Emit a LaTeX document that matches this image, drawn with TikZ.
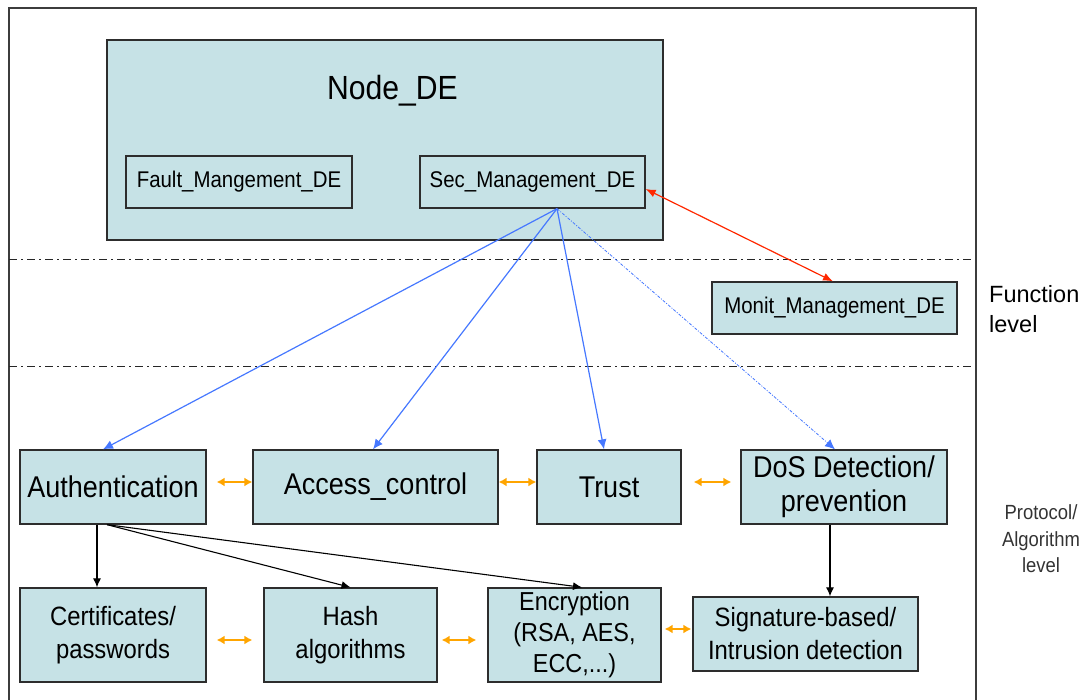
\documentclass[tikz,border=0pt]{standalone}
\usepackage{fontspec}
\setmainfont{Liberation Sans}[FakeStretch=0.9]
\newfontfamily\plainsans{Liberation Sans}
\usetikzlibrary{arrows.meta}
\definecolor{boxfill}{RGB}{198,226,230}
\definecolor{boxline}{RGB}{45,45,45}
\definecolor{arrblue}{RGB}{70,120,255}
\definecolor{arrorange}{RGB}{255,165,0}
\definecolor{arrred}{RGB}{255,40,0}
\definecolor{framegray}{RGB}{60,60,60}
\begin{document}
\begin{tikzpicture}[x=1pt,y=-1pt,
  box/.style={draw=boxline, line width=1.3pt, fill=boxfill, inner sep=0pt, align=center},
  smallfont/.style={font=\fontsize{22.7}{27}\selectfont},
  topfont/.style={font=\fontsize{30}{34}\selectfont},
  botfont/.style={font=\fontsize{26.5}{33}\selectfont},
  bluearr/.style={draw=arrblue, line width=1.2pt, -{Latex[length=10pt,width=9pt]}},
  bluedot/.style={bluearr, line width=0.8pt, dash pattern=on 3pt off 1.5pt on 1pt off 1.5pt},
  blkarr/.style={draw=black, line width=1.1pt, -{Latex[length=9pt,width=8pt]}},
  orarr/.style={draw=arrorange, line width=1.7pt, {Latex[length=8pt,width=9pt]}-{Latex[length=8pt,width=9pt]}},
  redarr/.style={draw=arrred, line width=1.2pt, {Latex[length=10pt,width=8pt]}-{Latex[length=10pt,width=8pt]}},
  levelline/.style={draw=black!85, line width=1pt, dash pattern=on 8pt off 4pt on 2pt off 4pt},
]
\useasboundingbox (0,0) rectangle (1089,700);
% frame
\draw[framegray, line width=1.6pt] (9,702) -- (9,8) -- (976,8) -- (976,702);
% level lines
\draw[levelline] (9,260) -- (972,260);
\draw[levelline] (9,366) -- (972,366);

% top node
\node[box, minimum width=556pt, minimum height=200pt] (nodede) at (385,140) {};
\node[anchor=base, inner sep=0pt, font=\fontsize{33.5}{40}\selectfont] (nodetitle) at (392.5,100) {Node\_DE};
\node[box, smallfont, minimum width=226pt, minimum height=52pt] (fault) at (239,182) {Fault\_Mangement\_DE};
\node[box, smallfont, minimum width=225pt, minimum height=52pt] (sec) at (532.5,182) {Sec\_Management\_DE};
\node[box, smallfont, minimum width=245pt, minimum height=52pt] (monit) at (834.5,308) {Monit\_Management\_DE};

% protocol level row 1
\node[box, topfont, minimum width=186pt, minimum height=74pt] (auth) at (113,487) {Authentication};
\node[box, topfont, minimum width=245pt, minimum height=74pt] (access) at (375.5,487) {Access\_control};
\node[box, topfont, minimum width=144pt, minimum height=74pt] (trust) at (609,487) {Trust};
\node[box, topfont, minimum width=206pt, minimum height=74pt] (dos) at (844,487) {DoS Detection/\\prevention};

% row 2
\node[box, botfont, minimum width=186pt, minimum height=94pt] (cert) at (113,635) {Certificates/\\passwords};
\node[box, botfont, minimum width=173pt, minimum height=94pt] (hash) at (350.5,635) {Hash\\algorithms};
\node[box, font=\fontsize{26}{31}\selectfont, minimum width=173pt, minimum height=94pt] (enc) at (574.5,635) {Encryption\\(RSA, AES,\\ECC,...)};
\node[box, botfont, minimum width=225pt, minimum height=74pt] (sig) at (805.5,634) {Signature-based/\\Intrusion detection};

% level labels
\node[anchor=west, inner sep=0pt, align=left, font=\plainsans\fontsize{23.5}{30}\selectfont] (funclevel) at (989,309.5) {Function\\level};
\node[inner sep=0pt, align=center, text=black!80, font=\fontsize{20.5}{26.5}\selectfont] (protolevel) at (1041,539) {Protocol/\\Algorithm\\level};

% blue arrows
\coordinate (secout) at ([xshift=24.5pt]sec.south);
\draw[bluearr] (secout) -- ([xshift=-10pt]auth.north);
\draw[bluearr] (secout) -- ([xshift=-2.5pt]access.north);
\draw[bluearr] (secout) -- ([xshift=-5pt]trust.north);
\draw[bluedot] (secout) -- ([xshift=-9pt]dos.north);

% red arrow
\draw[redarr] ([yshift=-7pt]sec.east) -- ([xshift=-1.5pt]monit.north);

% black arrows
\draw[blkarr] ([xshift=-16pt]auth.south) -- ([xshift=-16pt]cert.north);
\draw[blkarr] ([xshift=-6pt]auth.south) -- (hash.north);
\draw[blkarr] ([xshift=-6pt]auth.south) -- ([xshift=7.5pt]enc.north);
\draw[blkarr] ([xshift=-14pt]dos.south) -- ([xshift=24.5pt]sig.north);

% orange arrows
\draw[orarr] ([xshift=10pt,yshift=5pt]auth.east) -- ([yshift=5pt]access.west);
\draw[orarr] ([yshift=5pt]access.east) -- ([yshift=5pt]trust.west);
\draw[orarr] ([xshift=12pt,yshift=5pt]trust.east) -- ([xshift=-9pt,yshift=5pt]dos.west);
\draw[orarr] ([xshift=10pt,yshift=-5pt]cert.east) -- ([xshift=-11pt,yshift=-5pt]hash.west);
\draw[orarr] ([xshift=4pt,yshift=-5pt]hash.east) -- ([xshift=-11pt,yshift=-5pt]enc.west);
\draw[orarr] ([xshift=3pt,yshift=6pt]enc.east) -- ([xshift=-1pt,yshift=5pt]sig.west);
\end{tikzpicture}
\end{document}
